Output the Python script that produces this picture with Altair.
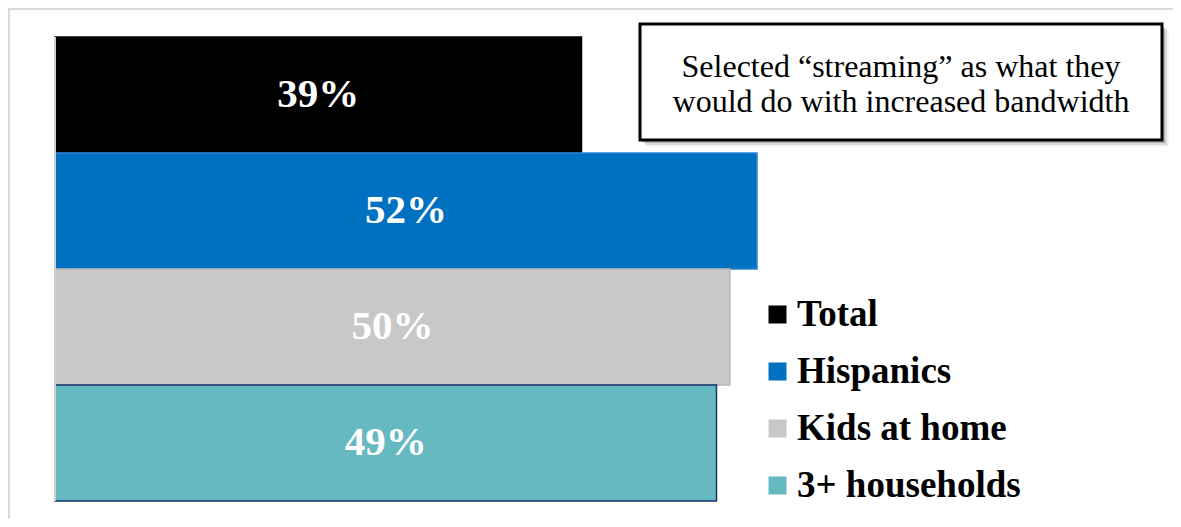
import altair as alt
import pandas as pd

categories = ["Total", "Hispanics", "Kids at home", "3+ households"]
values = [39, 52, 50, 49]
labels = ["39%", "52%", "50%", "49%"]
colors = ["#000000", "#0070C0", "#C8C8C8", "#66B8C1"]
strokes = ["#000000", "#2A86D6", "#B8B8B8", "#14306E"]
note_lines = ["Selected \u201cstreaming\u201d as what they", "would do with increased bandwidth"]

df = pd.DataFrame({"cat": categories, "value": values, "label": labels})
df["mid"] = df["value"] / 2

SERIF = "Liberation Serif"
W, H = 1165, 511

xs = alt.Scale(domain=[0, 60], range=[47, 857])
ys = alt.Scale(domain=categories, range=[29, 493], paddingInner=0, paddingOuter=0)

base = alt.Chart(df)

bars = base.mark_bar(strokeWidth=1.5).encode(
    x=alt.X("value:Q", scale=xs, axis=None),
    y=alt.Y("cat:N", scale=ys, axis=None, sort=categories),
    color=alt.Color(
        "cat:N",
        scale=alt.Scale(domain=categories, range=colors),
        sort=categories,
        legend=alt.Legend(
            orient="none", legendX=751, legendY=288, title=None,
            symbolType="square", symbolSize=324, symbolStrokeWidth=0,
            labelFont=SERIF, labelFontSize=37, labelFontWeight="bold",
            labelColor="#000000", rowPadding=19, labelOffset=1, padding=0,
            labelLimit=400,
        ),
    ),
    stroke=alt.Stroke("cat:N", scale=alt.Scale(domain=categories, range=strokes), legend=None),
)

text = base.mark_text(
    font=SERIF, fontSize=41, fontWeight="bold", color="white", align="center", baseline="middle"
).encode(
    x=alt.X("mid:Q", scale=xs),
    y=alt.Y("cat:N", scale=ys, sort=categories, bandPosition=0.5),
    text="label:N",
)

axis_line = base.mark_rule(color="#D0D0D0", strokeWidth=2).encode(
    x=alt.datum(0, scale=xs), y=alt.value(29), y2=alt.value(493)
)

one = alt.Chart(pd.DataFrame({"a": [0]}))
frame_top = one.mark_rule(color="#DADADA", strokeWidth=3).encode(
    x=alt.value(0), x2=alt.value(W), y=alt.value(0.5)
)
frame_left = one.mark_rule(color="#DADADA", strokeWidth=3).encode(
    x=alt.value(0.5), y=alt.value(0), y2=alt.value(H)
)

bx0, bx1, by0, by1 = 632, 1154, 16, 132
shadows = []
for off, op in [(7, 0.08), (5, 0.18), (3, 0.3)]:
    shadows.append(
        one.mark_rect(color="#606060", opacity=op).encode(
            x=alt.value(bx0 + off), x2=alt.value(bx1 + off),
            y=alt.value(by0 + off), y2=alt.value(by1 + off),
        )
    )
box = one.mark_rect(fill="white", stroke="black", strokeWidth=3).encode(
    x=alt.value(bx0), x2=alt.value(bx1), y=alt.value(by0), y2=alt.value(by1)
)
note1 = one.mark_text(font=SERIF, fontSize=32, color="black", align="center", baseline="middle").encode(
    x=alt.value(893), y=alt.value(59), text=alt.value(note_lines[0])
)
note2 = one.mark_text(font=SERIF, fontSize=32, color="black", align="center", baseline="middle").encode(
    x=alt.value(893), y=alt.value(94), text=alt.value(note_lines[1])
)

chart = alt.layer(
    frame_top, frame_left, bars, axis_line, text, *shadows, box, note1, note2
).properties(
    width=W, height=H, autosize=alt.AutoSizeParams(type="none"), padding=0, background="white"
).configure_view(stroke=None)

chart.save("out.html", embed_options={"renderer": "svg", "actions": False})
